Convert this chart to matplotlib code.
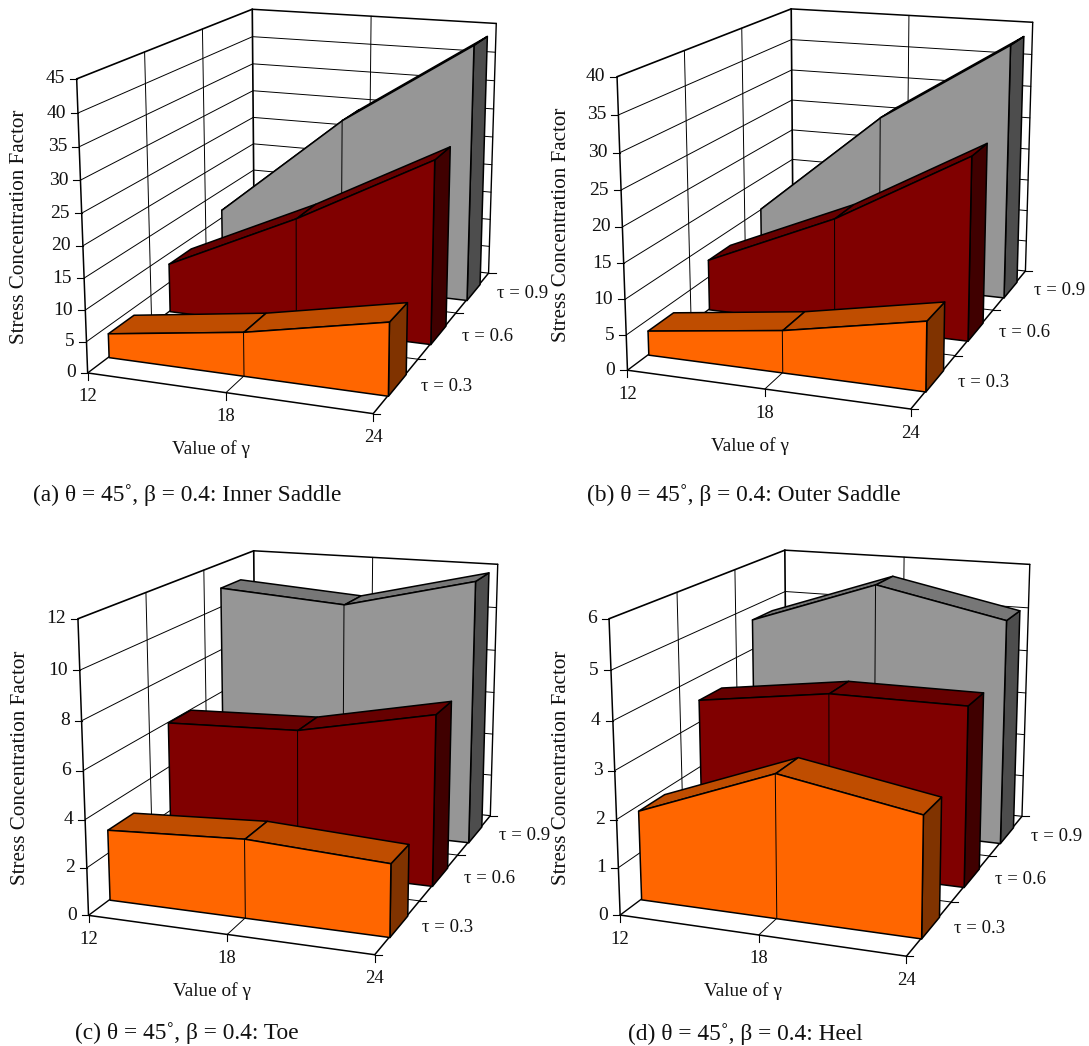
import matplotlib
matplotlib.use('Agg')
import matplotlib.pyplot as plt
from matplotlib.lines import Line2D
from mpl_toolkits.mplot3d.art3d import Poly3DCollection
import numpy as np

plt.rcParams['font.family'] = ['Liberation Serif', 'DejaVu Sans']

W, H = 1089, 1046

gamma = [12, 18, 24]
tau = ['τ = 0.3', 'τ = 0.6', 'τ = 0.9']

# values per tau
inner_saddle = [[3.9, 7.0, 11.4], [8.3, 18.4, 30.0], [11.5, 29.6, 43.9]]
outer_saddle = [[3.5, 6.0, 9.7], [7.7, 16.0, 26.8], [10.2, 26.5, 38.8]]
toe = [[3.0, 3.3, 3.0], [6.0, 6.2, 7.4], [10.9, 10.5, 11.9]]
heel = [[1.9, 3.0, 2.5], [3.5, 3.9, 3.9], [4.7, 5.7, 5.1]]

zticks_a = [0, 5, 10, 15, 20, 25, 30, 35, 40, 45]
zticks_b = [0, 5, 10, 15, 20, 25, 30, 35, 40]
zticks_c = [0, 2, 4, 6, 8, 10, 12]
zticks_d = [0, 1, 2, 3, 4, 5, 6]

front_col = ['#ff6600', '#800000', '#969696']
top_col = ['#bf4d00', '#660000', '#777777']
side_col = ['#803300', '#400000', '#4d4d4d']

# view fitted to each panel: elev, azim, focal, y aspect, z aspect / scale, x0, y0 in pixels
panels = [
    dict(vals=inner_saddle, zt=zticks_a, view=(15.19, -69.94, 0.540, 1.498, 0.999), place=(3026.0, 305.35, 186.74),
         cap='(a) θ = 45˚, β = 0.4: Inner Saddle', cap_xy=(32.8, 495), yl_xy=(19.5, 227), xl_xy=(211, 449)),
    dict(vals=outer_saddle, zt=zticks_b, view=(14.76, -70.21, 0.547, 1.523, 1.005), place=(3024.1, 843.7, 184.56),
         cap='(b) θ = 45˚, β = 0.4: Outer Saddle', cap_xy=(586.6, 495), yl_xy=(562, 225), xl_xy=(750, 446)),
    dict(vals=toe, zt=zticks_c, view=(14.75, -70.16, 0.545, 1.517, 1.005), place=(3049.5, 306.83, 728.06),
         cap='(c) θ = 45˚, β = 0.4: Toe', cap_xy=(75.4, 1033), yl_xy=(21, 768), xl_xy=(212, 991)),
    dict(vals=heel, zt=zticks_d, view=(15.16, -69.80, 0.538, 1.484, 1.003), place=(3026.6, 838.21, 728.39),
         cap='(d) θ = 45˚, β = 0.4: Heel', cap_xy=(627.5, 1034), yl_xy=(562, 768), xl_xy=(743, 991)),
]

fig = plt.figure(figsize=(W / 100, H / 100), dpi=100)


def draw_panel(p):
    s, x0, y0 = p['place']
    left = x0 - 0.095 * s
    bottom = H - y0 - 0.095 * s
    ax = fig.add_axes([left / W, bottom / H, 0.185 * s / W, 0.185 * s / H], projection='3d', computed_zorder=False)
    ax.patch.set_visible(False)
    ax.set_axis_off()
    zmax = p['zt'][-1]
    elev, azim, focal, ya, za = p['view']
    ax.view_init(elev=elev, azim=azim)
    ax.set_proj_type('persp', focal_length=focal)
    ax.set_box_aspect((1, ya, za))
    ax.set_xlim(0, 2)
    ax.set_ylim(0, 3)
    ax.set_zlim(0, zmax)
    M = ax.get_proj()

    order = [1]

    def line(xs, ys, zs, lw=0.7, col='black'):
        ax.plot(xs, ys, zs, color=col, lw=lw, zorder=order[0], clip_on=False, solid_capstyle='round')
        order[0] += 1

    def face(verts, col, lw=1.1):
        pc = Poly3DCollection([verts], facecolors=col, edgecolors='black', linewidths=lw, zorder=order[0], clip_on=False)
        ax.add_collection3d(pc, autolim=False)
        order[0] += 1

    def to2d(x, y, z):
        h = M @ np.array([x, y, z, 1.0])
        return h[0] / h[3], h[1] / h[3]

    def tick(x, y, z, dx, dy):
        u, v = to2d(x, y, z)
        ax.add_artist(Line2D([u, u + dx / s], [v, v + dy / s], color='black', lw=0.8, transform=ax.transData, clip_on=False))

    def label(txt, x, y, z, dx, dy, ha='center', size=13.5):
        u, v = to2d(x, y, z)
        ax.annotate(txt, xy=(u, v), xycoords='data', xytext=(dx * 0.72, dy * 0.72), textcoords='offset points',
                    ha=ha, va='center', fontsize=size, annotation_clip=False, color='#111111')

    # walls and floor
    for z in p['zt'][1:-1]:
        line([0, 0], [0, 3], [z, z])
        line([0, 2], [3, 3], [z, z])
    for y in [1, 2]:
        line([0, 0], [y, y], [0, zmax])
        line([0, 2], [y, y], [0, 0])
    line([1, 1], [3, 3], [0, zmax])
    line([1, 1], [0, 3], [0, 0])
    line([0, 2], [3, 3], [0, 0], lw=0.8)
    line([2, 2], [3, 3], [0, zmax], lw=1.0)
    line([0, 0], [3, 3], [0, zmax], lw=1.2)
    line([0, 0], [0, 0], [0, zmax], lw=1.1)
    line([0, 0], [0, 3], [zmax, zmax], lw=1.2)
    line([0, 2], [3, 3], [zmax, zmax], lw=1.1)
    line([0, 0], [0, 3], [0, 0], lw=1.0)
    line([0, 2], [0, 0], [0, 0], lw=1.1)
    line([2, 2], [0, 3], [0, 0], lw=1.1)

    # slabs, back to front
    for i in [2, 1, 0]:
        v = p['vals'][i]
        yf = i + 0.31
        yb = i + 0.71
        face([(2, yf, 0), (2, yb, 0), (2, yb, v[2]), (2, yf, v[2])], side_col[i])
        for j in [0, 1]:
            face([(j, yf, v[j]), (j + 1, yf, v[j + 1]), (j + 1, yb, v[j + 1]), (j, yb, v[j])], top_col[i])
        face([(0, yf, 0), (2, yf, 0), (2, yf, v[2]), (1, yf, v[1]), (0, yf, v[0])], front_col[i])
        line([1, 1], [yf, yf], [0, v[1]], lw=0.7)

    # ticks and their labels
    for z in p['zt']:
        tick(0, 0, z, -7, 0)
        label(str(z), 0, 0, z, -12, 0, ha='right', size=14)
    for j, g in enumerate(gamma):
        tick(j, 0, 0, 0, -7)
        label(str(g), j, 0, 0, 0, -24)
    for y in range(4):
        tick(2, y, 0, 7, 0)
    for i, t in enumerate(tau):
        label(t, 2, i + 0.5, 0, 50, -1)

    fig.text(p['yl_xy'][0] / W, 1 - p['yl_xy'][1] / H, 'Stress Concentration Factor', rotation=90,
             ha='center', va='center', fontsize=15.2, color='#111111')
    fig.text(p['xl_xy'][0] / W, 1 - p['xl_xy'][1] / H, 'Value of γ', ha='center', va='center', fontsize=13.9, color='#111111')
    fig.text(p['cap_xy'][0] / W, 1 - p['cap_xy'][1] / H, p['cap'], ha='left', va='center', fontsize=16.8, color='#111111')


for panel in panels:
    draw_panel(panel)

fig.savefig('out.png', dpi=100)
